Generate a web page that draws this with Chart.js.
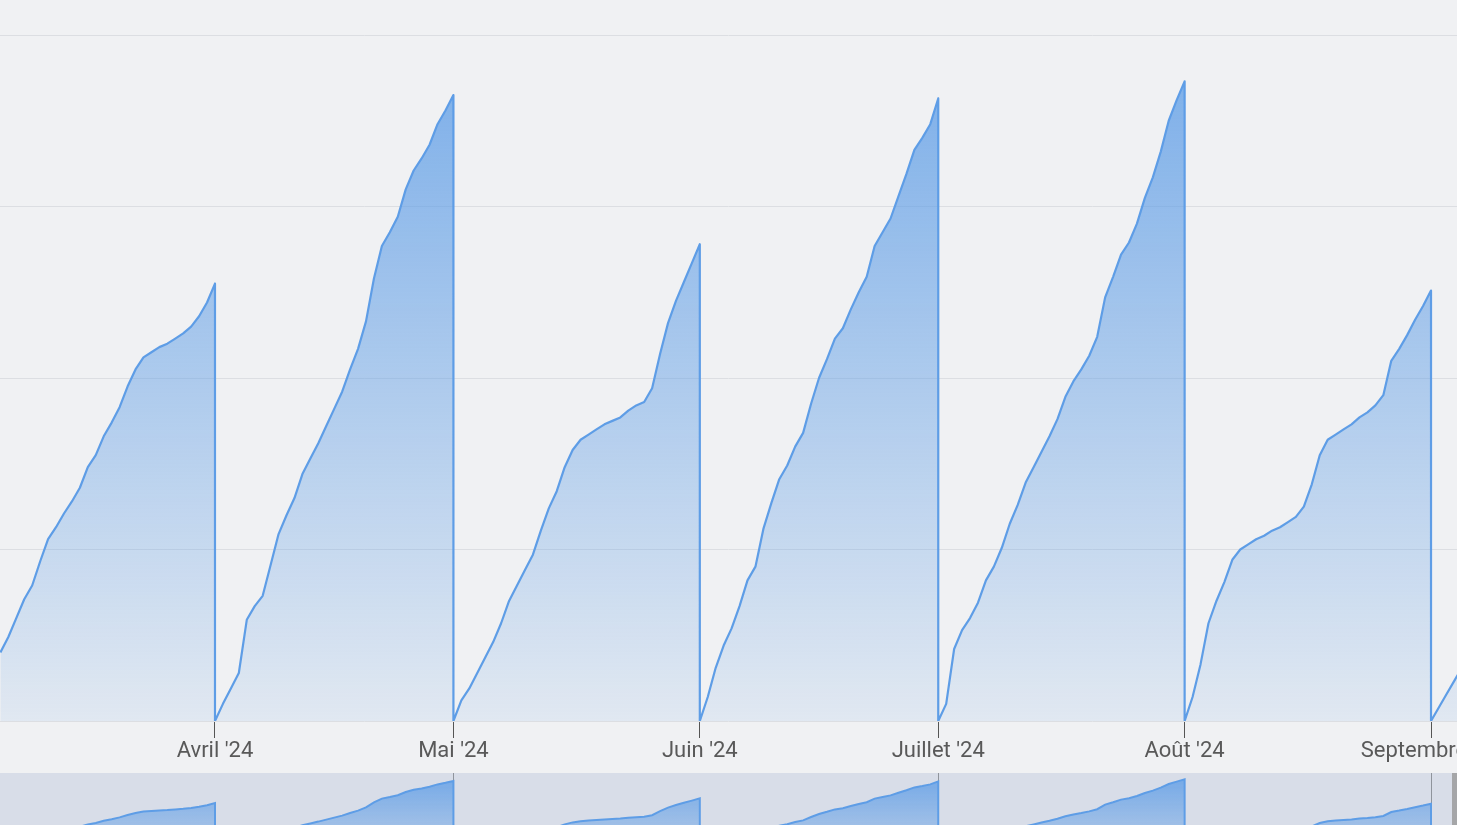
<!DOCTYPE html>
<html lang="fr">
<head>
<meta charset="utf-8">
<title>Cumul mensuel</title>
<script src="https://cdn.jsdelivr.net/npm/chart.js@4.4.1/dist/chart.umd.min.js"></script>
<style>
    html, body { margin: 0; padding: 0; }
    body {
        width: 1457px;
        height: 825px;
        overflow: hidden;
        background: #f0f1f3;
        position: relative;
    }
    #mainBox { position: absolute; left: 0; top: 0; width: 1457px; height: 773px; }
    #navBox { position: absolute; left: 0; top: 773px; width: 1457px; height: 81px; background: #d8dde8; }
    #navHandle { position: absolute; left: 1452px; top: 773px; width: 5px; height: 52px; background: #a5a6a8; }
</style>
</head>
<body>
<div id="mainBox"><canvas id="mainChart"></canvas></div>
<div id="navBox"><canvas id="navChart"></canvas></div>
<div id="navHandle"></div>

<script>
// ═══════════════════════════════════════════
// Données (jours comptés depuis le 1er avril 2024)
// ═══════════════════════════════════════════

const monthTicks = [0, 30, 61, 91, 122, 153];
const monthLabels = ["Avril '24", "Mai '24", "Juin '24", "Juillet '24", "Août '24", "Septembre '24"];
// graduations du navigateur : un mois sur deux
const navTicks = [30, 91, 153];

// premier jour de chaque morceau de série
const seriesStart = [-27, 0, 30, 61, 91, 122, 153];

// cumul journalier, remis à zéro au début de chaque mois
const mars = [40, 49, 60, 71, 79, 93, 106, 113, 121, 128, 136, 148, 155, 166, 174, 183, 195, 205, 212, 215, 218, 220, 223, 226, 230, 236, 244, 255];
const avril = [0, 10, 19, 28, 59, 67, 73, 91, 109, 120, 130, 144, 153, 162, 172, 182, 192, 205, 217, 233, 258, 277, 285, 294, 310, 321, 328, 336, 348, 356, 365];
const mai = [0, 12, 19, 28, 37, 46, 57, 70, 79, 88, 97, 111, 124, 134, 148, 158, 164, 167, 170, 173, 175, 177, 181, 184, 186, 194, 214, 232, 245, 256, 267, 278];
const juin = [0, 14, 31, 44, 54, 67, 82, 90, 112, 127, 141, 149, 160, 168, 185, 200, 211, 223, 229, 240, 250, 259, 277, 285, 293, 306, 319, 333, 340, 348, 363];
const juillet = [0, 10, 42, 53, 60, 69, 82, 90, 101, 115, 126, 139, 148, 157, 166, 176, 189, 198, 205, 213, 224, 247, 259, 272, 279, 290, 305, 317, 332, 350, 362, 373];
const aout = [0, 14, 33, 57, 70, 81, 94, 100, 103, 106, 108, 111, 113, 116, 119, 125, 138, 155, 164, 167, 170, 173, 177, 180, 184, 190, 210, 217, 225, 234, 242, 251];
const septembre = [0, 8, 16, 24, 32];

const xMin = -27.05;
const xMax = 156.27;

// Construire les points : chaque mois finit sur le 1er du mois suivant
function buildPoints() {
    const parts = [mars, avril, mai, juin, juillet, aout, septembre];
    const pts = [];
    parts.forEach((vals, m) => {
        vals.forEach((v, i) => pts.push({ x: seriesStart[m] + i, y: v }));
    });
    return pts;
}

const points = buildPoints();
const lineColor = 'rgb(94, 157, 230)';

function areaGradient(top, bottom) {
    return (context) => {
        const chart = context.chart;
        const area = chart.chartArea;
        if (!area) return null;
        const g = chart.ctx.createLinearGradient(0, area.top, 0, area.bottom);
        g.addColorStop(0, 'rgba(94, 157, 230, ' + top + ')');
        g.addColorStop(1, 'rgba(94, 157, 230, ' + bottom + ')');
        return g;
    };
}

// ═══════════════════════════════════════════
// Graphique principal
// ═══════════════════════════════════════════
new Chart(document.getElementById('mainChart'), {
    type: 'line',
    data: {
        datasets: [{
            data: points,
            borderColor: lineColor,
            borderWidth: 2.2,
            borderJoinStyle: 'round',
            backgroundColor: areaGradient(0.82, 0.1),
            fill: 'origin',
            pointRadius: 0,
            tension: 0
        }]
    },
    options: {
        responsive: true,
        maintainAspectRatio: false,
        animation: false,
        layout: { padding: { top: 35, left: 0, right: 0, bottom: 0 } },
        plugins: {
            legend: { display: false },
            tooltip: { enabled: false }
        },
        scales: {
            x: {
                type: 'linear',
                min: xMin,
                max: xMax,
                afterBuildTicks: (s) => { s.ticks = monthTicks.map(v => ({ value: v })); },
                afterFit: (s) => { s.height = 52; s.paddingLeft = 0; s.paddingRight = 0; },
                border: { display: false },
                grid: {
                    drawOnChartArea: false,
                    drawTicks: true,
                    tickLength: 17,
                    color: '#555555',
                    lineWidth: 1
                },
                ticks: {
                    autoSkip: false,
                    maxRotation: 0,
                    minRotation: 0,
                    padding: 0,
                    color: '#595959',
                    font: { family: 'Roboto', size: 22 },
                    callback: (v) => monthLabels[monthTicks.indexOf(v)]
                }
            },
            y: {
                min: 0,
                max: 400,
                afterFit: (s) => { s.width = 0; },
                border: { display: false },
                grid: { color: '#dcdee2', lineWidth: 1, drawTicks: false },
                ticks: { display: false, stepSize: 100 }
            }
        }
    }
});

// ═══════════════════════════════════════════
// Navigateur (aperçu en bas)
// ═══════════════════════════════════════════
new Chart(document.getElementById('navChart'), {
    type: 'line',
    data: {
        datasets: [{
            data: points,
            borderColor: lineColor,
            borderWidth: 2,
            backgroundColor: areaGradient(0.85, 0.25),
            fill: 'origin',
            pointRadius: 0,
            tension: 0
        }]
    },
    options: {
        responsive: true,
        maintainAspectRatio: false,
        animation: false,
        layout: { padding: 0 },
        plugins: {
            legend: { display: false },
            tooltip: { enabled: false }
        },
        scales: {
            x: {
                type: 'linear',
                min: xMin,
                max: xMax,
                afterBuildTicks: (s) => { s.ticks = navTicks.map(v => ({ value: v })); },
                afterFit: (s) => { s.height = 0; s.paddingLeft = 0; s.paddingRight = 0; },
                border: { display: false },
                grid: { color: '#8f949c', lineWidth: 1, drawTicks: false },
                ticks: { display: false }
            },
            y: {
                display: false,
                min: 0,
                max: 405
            }
        }
    }
});
</script>
</body>
</html>
